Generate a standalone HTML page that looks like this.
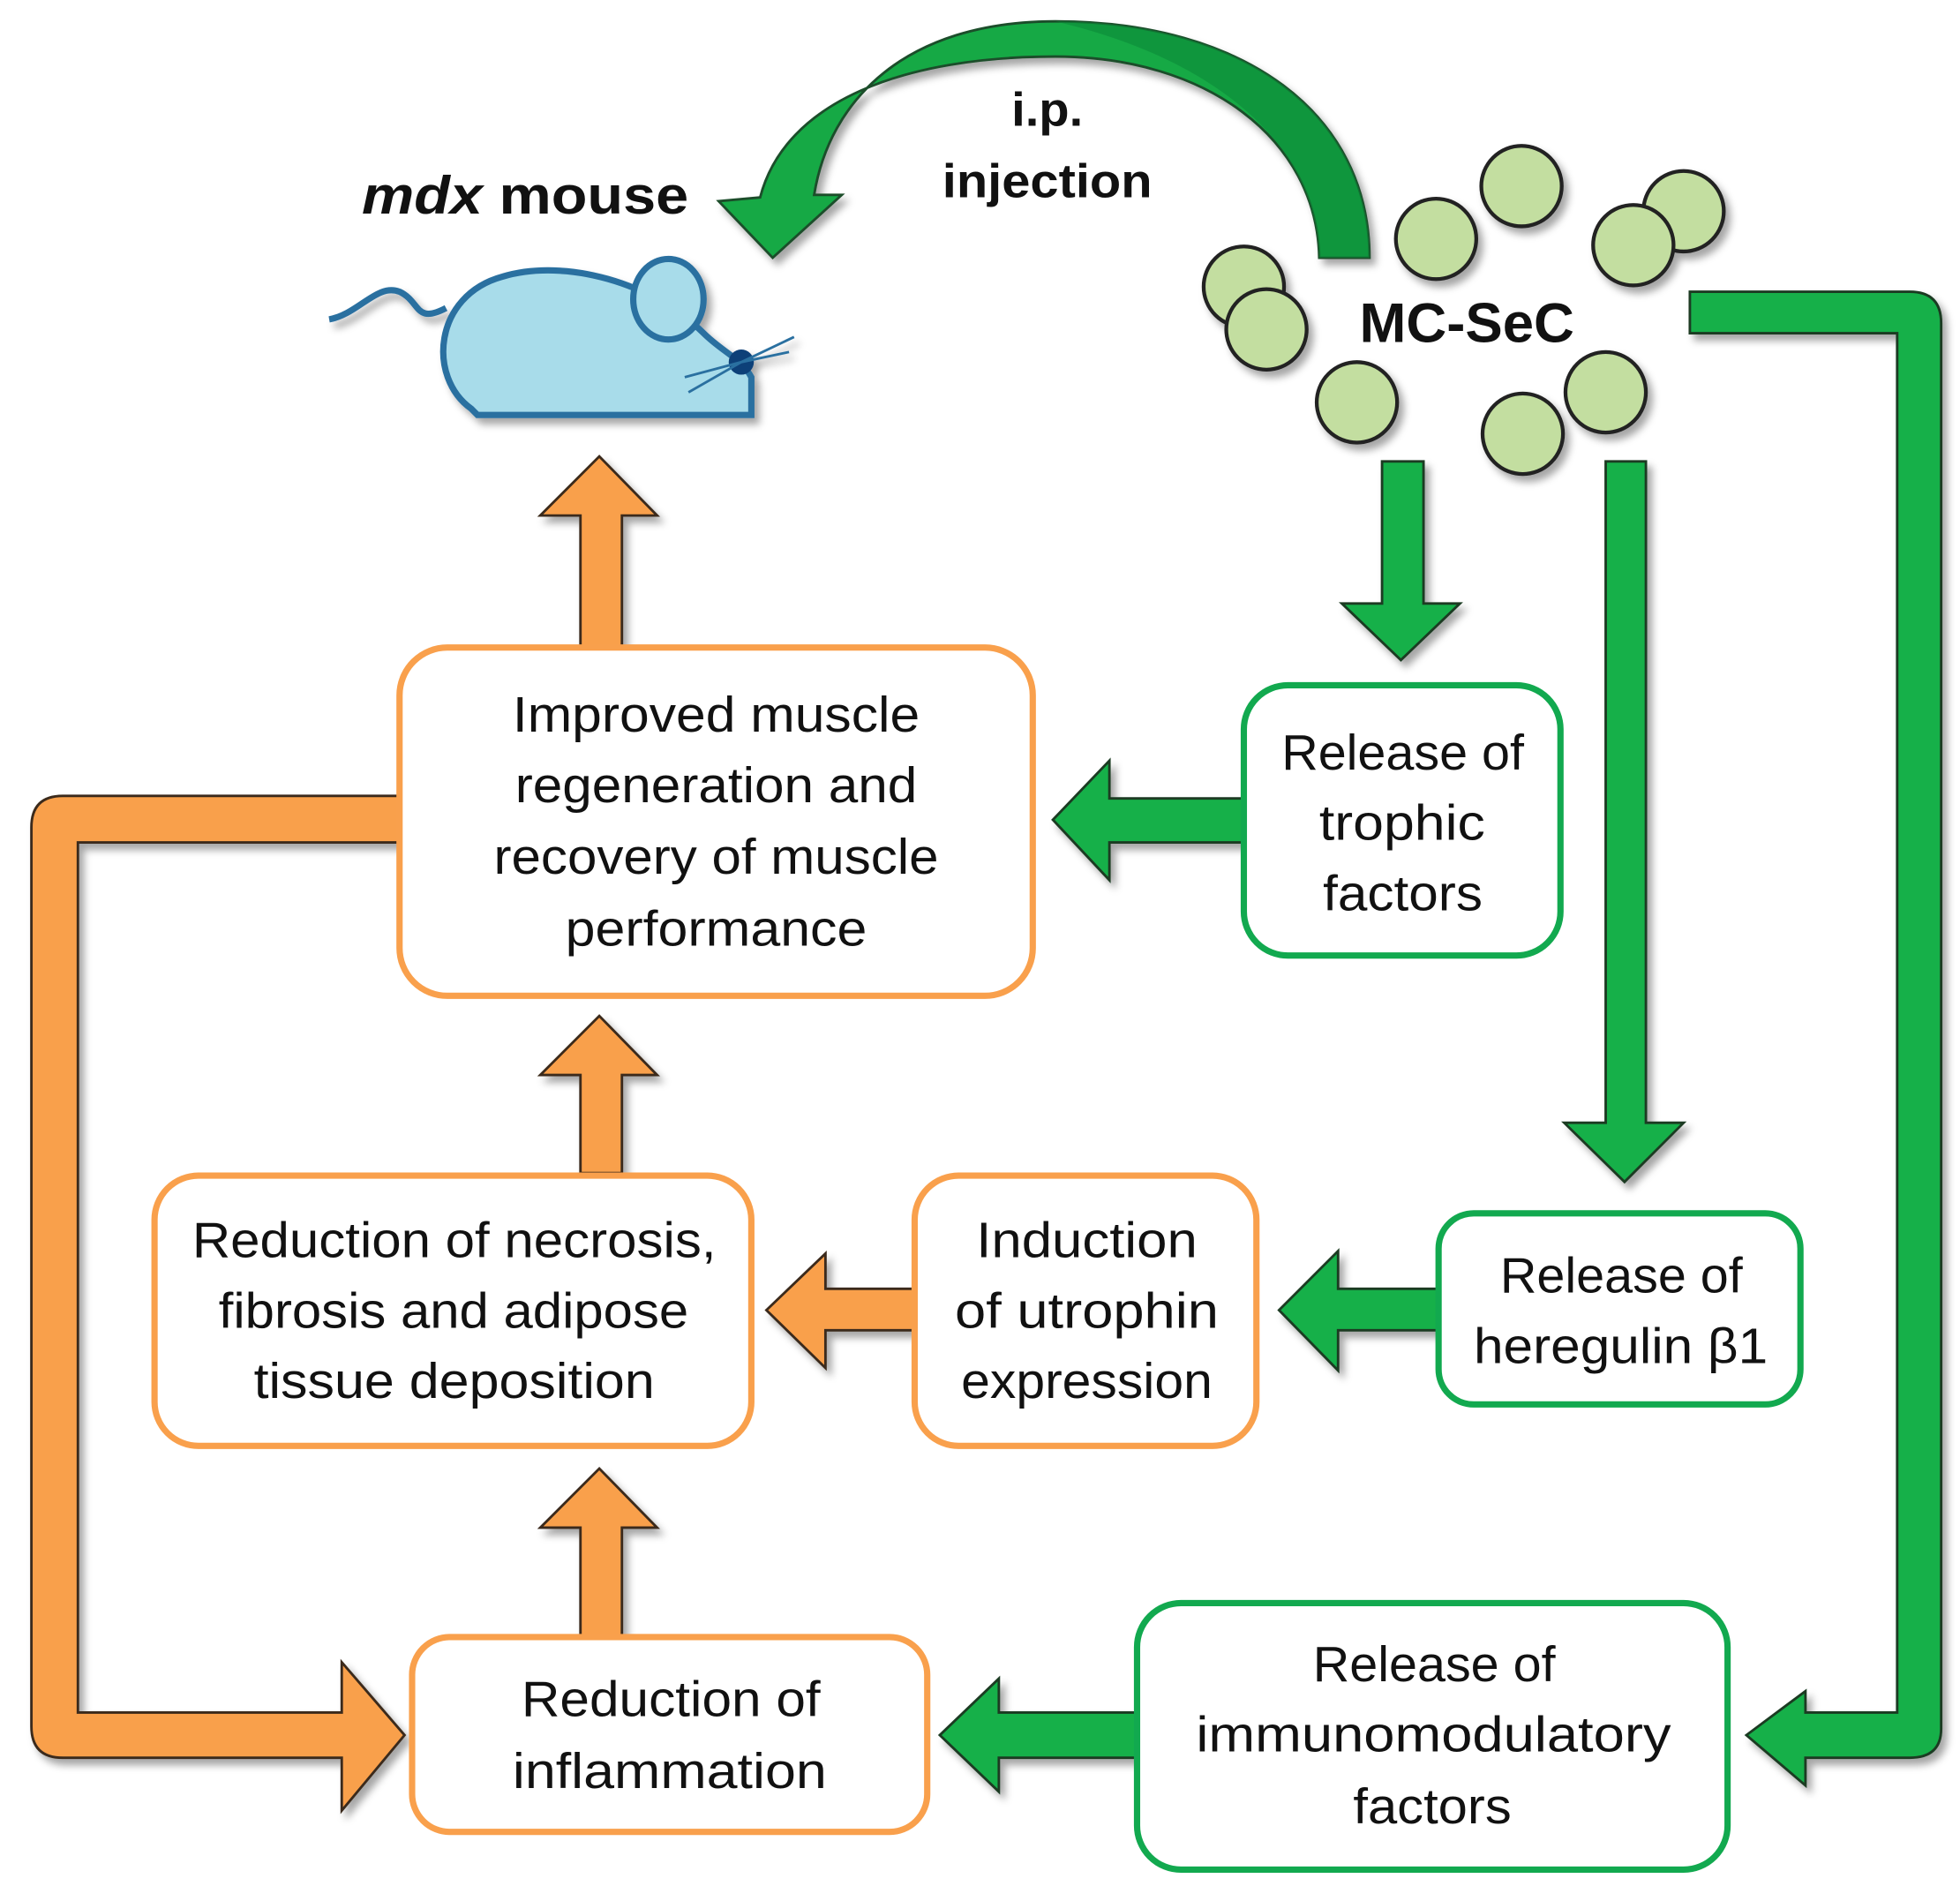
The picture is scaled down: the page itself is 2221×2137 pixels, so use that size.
<!DOCTYPE html>
<html><head><meta charset="utf-8">
<style>
html,body{margin:0;padding:0;background:#fff;}
svg{display:block;}
text{font-family:"Liberation Sans",sans-serif;fill:#111;}
</style></head>
<body>
<svg width="2221" height="2137" viewBox="0 0 1560 1500" preserveAspectRatio="none" xmlns="http://www.w3.org/2000/svg">
<defs>
<filter id="sh" x="-20%" y="-20%" width="150%" height="150%">
<feDropShadow dx="4" dy="5" stdDeviation="3" flood-color="#000" flood-opacity="0.35"/>
</filter>
</defs>

<!-- curved injection arrow -->
<path filter="url(#sh)" d="M1090,205 C1090,90 990,17 840,17 C720,17 660,80 648,155 L670,155 L615,205 L572,160 L605,157 C625,80 720,45 840,45 C960,45 1048,110 1050,205 Z" fill="#12a945" stroke="#1a4d2a" stroke-width="2"/>
<path d="M1090,205 C1090,90 990,17 840,17 C960,45 1048,110 1050,205 Z" fill="#0c8a38" opacity="0.6"/>

<text x="288" y="170" font-size="42" font-weight="bold" textLength="260" lengthAdjust="spacingAndGlyphs"><tspan font-style="italic">mdx</tspan> mouse</text>
<text x="805" y="100" font-size="38" font-weight="bold" textLength="57" lengthAdjust="spacingAndGlyphs">i.p.</text>
<text x="750" y="157" font-size="38" font-weight="bold" textLength="167" lengthAdjust="spacingAndGlyphs">injection</text>

<!-- mouse -->
<g filter="url(#sh)">
<path d="M262,254 C285,250 300,225 318,232 C335,240 330,258 355,245" fill="none" stroke="#2a6fa0" stroke-width="5"/>
<path d="M375,325 C340,300 345,235 400,220 C450,205 520,225 560,265 C575,280 590,285 598,300 L598,330 L380,330 Z" fill="#a8dcea" stroke="#2a6fa0" stroke-width="5"/>
<ellipse cx="532" cy="238" rx="28" ry="32" fill="#a8dcea" stroke="#2a6fa0" stroke-width="5"/>
<circle cx="590" cy="288" r="10" fill="#0c3f78"/>
<path d="M590,288 L632,268 M590,288 L628,280 M590,288 L545,300 M590,288 L548,312" stroke="#2a6fa0" stroke-width="2"/>
</g>

<!-- cells -->
<g filter="url(#sh)" fill="#c3dea0" stroke="#222" stroke-width="3">
<circle cx="990" cy="228" r="32"/>
<circle cx="1008" cy="262" r="32"/>
<circle cx="1143" cy="190" r="32"/>
<circle cx="1211" cy="148" r="32"/>
<circle cx="1340" cy="168" r="32"/>
<circle cx="1300" cy="195" r="32"/>
<circle cx="1080" cy="320" r="32"/>
<circle cx="1212" cy="345" r="32"/>
<circle cx="1278" cy="312" r="32"/>
</g>
<text x="1082" y="272" font-size="44" font-weight="bold" textLength="171" lengthAdjust="spacingAndGlyphs">MC-SeC</text>

<!-- green arrows -->
<g filter="url(#sh)" fill="#12b04a" stroke="#1a3a22" stroke-width="2">
<path d="M1345,232 L1520,232 Q1545,232 1545,257 L1545,1375 Q1545,1398 1520,1398 L1437,1398 L1437,1420 L1390,1380 L1437,1345 L1437,1362 L1510,1362 L1510,265 L1345,265 Z"/>
<path d="M1100,367 L1133,367 L1133,480 L1162,480 L1115,525 L1068,480 L1100,480 Z"/>
<path d="M1278,367 L1310,367 L1310,893 L1340,893 L1293,940 L1245,893 L1278,893 Z"/>
<path d="M990,635 L883,635 L883,605 L838,652 L883,700 L883,670 L990,670 Z"/>
<path d="M1145,1025 L1065,1025 L1065,995 L1018,1042 L1065,1090 L1065,1058 L1145,1058 Z"/>
<path d="M905,1362 L795,1362 L795,1335 L748,1380 L795,1425 L795,1398 L905,1398 Z"/>
</g>

<!-- orange arrows -->
<g filter="url(#sh)" fill="#f9a04c" stroke="#3a2a1a" stroke-width="2">
<path d="M462,515 L495,515 L495,410 L523,410 L477,363 L430,410 L462,410 Z"/>
<path d="M462,933 L495,933 L495,855 L523,855 L477,808 L430,855 L462,855 Z"/>
<path d="M462,1302 L495,1302 L495,1215 L523,1215 L477,1168 L430,1215 L462,1215 Z"/>
<path d="M728,1025 L657,1025 L657,997 L610,1042 L657,1088 L657,1058 L728,1058 Z"/>
<path d="M318,633 L50,633 Q25,633 25,658 L25,1373 Q25,1398 50,1398 L272,1398 L272,1440 L322,1380 L272,1322 L272,1362 L62,1362 L62,670 L318,670 Z"/>
</g>

<!-- boxes -->
<g stroke-width="5" fill="#fff">
<rect x="318" y="515" width="504" height="277" rx="38" stroke="#f9a04c"/>
<rect x="123" y="935" width="475" height="215" rx="35" stroke="#f9a04c"/>
<rect x="728" y="935" width="272" height="215" rx="35" stroke="#f9a04c"/>
<rect x="328" y="1302" width="410" height="155" rx="30" stroke="#f9a04c"/>
<rect x="990" y="545" width="252" height="215" rx="35" stroke="#12a94f"/>
<rect x="1145" y="965" width="288" height="152" rx="28" stroke="#12a94f"/>
<rect x="905" y="1275" width="470" height="212" rx="35" stroke="#12a94f"/>
</g>

<g font-size="40" lengthAdjust="spacingAndGlyphs">
<text x="408" y="582" textLength="324" lengthAdjust="spacingAndGlyphs">Improved muscle</text>
<text x="410" y="638" textLength="320" lengthAdjust="spacingAndGlyphs">regeneration and</text>
<text x="393" y="695" textLength="354" lengthAdjust="spacingAndGlyphs">recovery of muscle</text>
<text x="450" y="752" textLength="240" lengthAdjust="spacingAndGlyphs">performance</text>

<text x="1020" y="612" textLength="193" lengthAdjust="spacingAndGlyphs">Release of</text>
<text x="1050" y="668" textLength="132" lengthAdjust="spacingAndGlyphs">trophic</text>
<text x="1053" y="724" textLength="127" lengthAdjust="spacingAndGlyphs">factors</text>

<text x="153" y="1000" textLength="417" lengthAdjust="spacingAndGlyphs">Reduction of necrosis,</text>
<text x="174" y="1056" textLength="374" lengthAdjust="spacingAndGlyphs">fibrosis and adipose</text>
<text x="202" y="1112" textLength="319" lengthAdjust="spacingAndGlyphs">tissue deposition</text>

<text x="777" y="1000" textLength="176" lengthAdjust="spacingAndGlyphs">Induction</text>
<text x="760" y="1056" textLength="210" lengthAdjust="spacingAndGlyphs">of utrophin</text>
<text x="765" y="1112" textLength="200" lengthAdjust="spacingAndGlyphs">expression</text>

<text x="1194" y="1028" textLength="193" lengthAdjust="spacingAndGlyphs">Release of</text>
<text x="1173" y="1084" textLength="234" lengthAdjust="spacingAndGlyphs">heregulin β1</text>

<text x="415" y="1365" textLength="238" lengthAdjust="spacingAndGlyphs">Reduction of</text>
<text x="408" y="1422" textLength="250" lengthAdjust="spacingAndGlyphs">inflammation</text>

<text x="1045" y="1337" textLength="193" lengthAdjust="spacingAndGlyphs">Release of</text>
<text x="952" y="1393" textLength="378" lengthAdjust="spacingAndGlyphs">immunomodulatory</text>
<text x="1077" y="1450" textLength="126" lengthAdjust="spacingAndGlyphs">factors</text>
</g>
</svg>
</body></html>
